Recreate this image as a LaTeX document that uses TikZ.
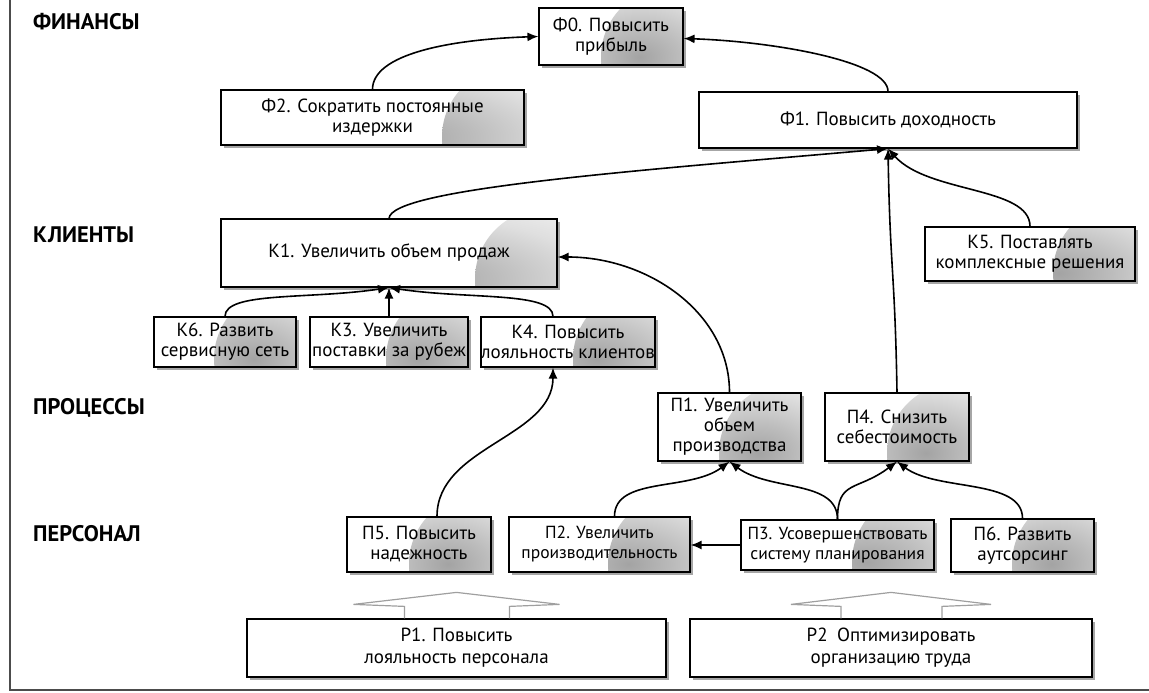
\documentclass[tikz,border=0pt]{standalone}
\usepackage{fontspec}
\setmainfont{PT Sans}
\usetikzlibrary{arrows.meta,shadows,calc}
\pgfdeclareradialshading{blobshade}{\pgfpoint{0bp}{0bp}}{color(0bp)=(gray!72); color(10bp)=(gray!52); color(22bp)=(gray!25); color(34bp)=(gray!8); color(44bp)=(white); color(50bp)=(white)}
\begin{document}
\begin{tikzpicture}[x=1pt,y=1pt,
  box/.style={draw=black, line width=1.2pt, fill=white, align=center, inner sep=0pt,
    font=\fontsize{19}{20}\selectfont,
    drop shadow={shadow xshift=3pt,shadow yshift=-3pt,fill=gray!70,opacity=1},
    path picture={\shade[shading=blobshade]
      ([xshift=-12pt,yshift=8pt]path picture bounding box.south east) circle (70pt);}},
  plainbox/.style={draw=black, line width=1.2pt, fill=white, align=center, inner sep=0pt,
    font=\fontsize{19}{22}\selectfont,
    drop shadow={shadow xshift=3pt,shadow yshift=-3pt,fill=gray!70,opacity=1}},
  con/.style={line width=1.6pt, -{Latex[length=11pt,width=9pt]}},
  lane/.style={font=\fontsize{22.5}{24}\selectfont\bfseries, anchor=west, inner sep=0pt},
  blk/.style={draw=gray!75, line width=1.2pt},
]
\useasboundingbox (0,0) rectangle (1149,693);
% frame
\draw[line width=1.2pt, gray!60!black] (10,693) -- (10,3) -- (1149,3);

% lane labels
\node[lane] (lfin) at (33,671) {ФИНАНСЫ};
\node[lane] (lkl)  at (33,458) {КЛИЕНТЫ};
\node[lane] (lpr)  at (33,285) {ПРОЦЕССЫ};
\node[lane] (lpe)  at (33,159) {ПЕРСОНАЛ};

% finance
\node[box, minimum width=144pt, minimum height=57pt] (f0) at (611,656.5) {Ф0. Повысить\\прибыль};
\node[box, minimum width=303pt, minimum height=55pt] (f2) at (372.5,575.5) {Ф2. Сократить постоянные\\издержки};
\node[plainbox, minimum width=378pt, minimum height=56pt] (f1) at (888,573) {Ф1. Повысить доходность};

% clients
\node[box, minimum width=336pt, minimum height=68pt] (k1) at (389,440) {К1. Увеличить объем продаж};
\node[box, minimum width=142pt, minimum height=50pt] (k6) at (225,351) {К6. Развить\\сервисную сеть};
\node[box, minimum width=158pt, minimum height=50pt] (k3) at (389,351) {К3. Увеличить\\поставки за рубеж};
\node[box, minimum width=174pt, minimum height=50pt] (k4) at (568,351) {К4. Повысить\\лояльность клиентов};
\node[box, minimum width=210pt, minimum height=54pt] (k5) at (1030,439) {К5. Поставлять\\комплексные решения};

% processes
\node[box, minimum width=143pt, minimum height=68pt] (p1) at (729.5,266) {П1. Увеличить\\объем\\производства};
\node[box, minimum width=144pt, minimum height=68pt] (p4) at (897,266) {П4. Снизить\\себестоимость};

% personnel
\node[box, minimum width=144pt, minimum height=55pt] (p5) at (419,148.5) {П5. Повысить\\надежность};
\node[box, minimum width=181pt, minimum height=55pt, font=\fontsize{17.5}{20}\selectfont] (p2) at (599.5,148.5) {П2. Увеличить\\производительность};
\node[box, minimum width=193pt, minimum height=50pt, font=\fontsize{17.5}{20}\selectfont] (p3) at (837.5,148) {П3. Усовершенствовать\\систему планирования};
\node[box, minimum width=143pt, minimum height=53pt] (p6) at (1022.5,147.5) {П6. Развить\\аутсорсинг};

% resources
\node[plainbox, minimum width=419pt, minimum height=58pt] (r1) at (456.5,45) {Р1. Повысить\\лояльность персонала};
\node[plainbox, minimum width=402pt, minimum height=58pt] (r2) at (891,45) {Р2\enspace Оптимизировать\\организацию труда};

% block arrows
\draw[blk] ($(r1.north)+(-52,0)$) -- ++(0,12) -- ++(-51,2) -- ($(r1.north)+(0,26)$)
  -- ($(r1.north)+(103,14)$) -- ($(r1.north)+(53,12)$) -- ($(r1.north)+(53,0)$);
\draw[blk] ($(r2.north)+(-50,0)$) -- ++(0,12) -- ++(-50,2) -- ($(r2.north)+(0,26)$)
  -- ($(r2.north)+(100,14)$) -- ($(r2.north)+(51,12)$) -- ($(r2.north)+(51,0)$);

% connectors
\draw[con] (f2.north) .. controls +(0,35) and +(-90,-3) .. (f0.west);
\draw[con] (f1.north) .. controls +(0,30) and +(90,-3) .. ([yshift=-2pt]f0.east);
\draw[con] (k1.north) .. controls +(2,30) and +(-250,-22) .. (f1.south);
\draw[con] (k5.north) .. controls +(0,40) and +(40,-45) .. (f1.south);
\draw[con] (p4.north) .. controls +(-2,120) and +(2,-120) .. (f1.south);
\draw[con] (k6.north) .. controls +(0,25) and +(-80,-12) .. (k1.south);
\draw[con] (k3.north) -- (k1.south);
\draw[con] ([xshift=-15pt]k4.north) .. controls +(0,25) and +(80,-12) .. (k1.south);
\draw[con] ([xshift=18pt]p5.north) .. controls +(0,70) and +(0,-70) .. ([xshift=-15pt]k4.south);
\draw[con] (p1.north) .. controls +(0,80) and +(90,0) .. ([yshift=-4pt]k1.east);
\draw[con] ([xshift=15pt]p2.north) .. controls +(0,40) and +(-40,-30) .. (p1.south);
\draw[con] (p3.north) .. controls +(0,40) and +(40,-30) .. (p1.south);
\draw[con] (p3.north) .. controls +(0,40) and +(-40,-30) .. (p4.south);
\draw[con] (p6.north) .. controls +(0,40) and +(40,-30) .. (p4.south);
\draw[con] (p3.west) -- (p3.west -| p2.east);
\end{tikzpicture}
\end{document}
